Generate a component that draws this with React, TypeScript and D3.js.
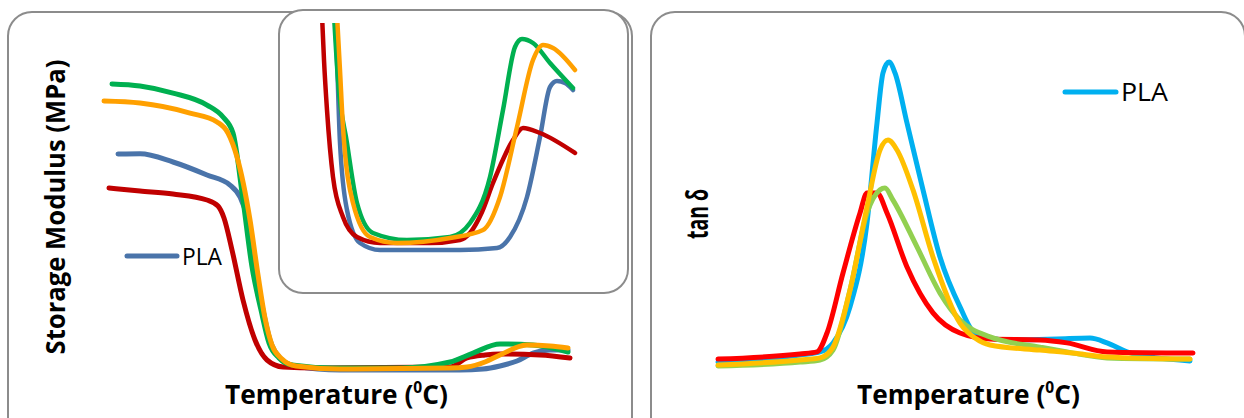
import React, { useLayoutEffect, useRef, useState } from "react";
import * as d3 from "d3";

type Pt = [number, number];

// Storage modulus (MPa) vs temperature (°C) — main plot
const smPLA: Pt[] = [[23.6,2700],[28,2702],[34.6,2600],[41.4,2438],[46,2312],[48,2162],[49.4,1912],[50.8,1375],[52.4,812],[54,375],[56,150],[59,50],[68,0],[92,0],[96.6,12],[100,50],[103.4,112],[106.6,212],[110,250],[113.6,250]];
const smRed: Pt[] = [[21.8,2275],[28,2238],[34.6,2200],[41.4,2125],[43.6,2050],[44.8,1900],[46.4,1500],[48.6,875],[51,375],[53.4,125],[56.6,38],[63.4,25],[90,38],[93.4,150],[97,188],[100,200],[108,188],[114,150]];
const smGreen: Pt[] = [[22.4,3575],[28,3550],[34.6,3462],[41.4,3312],[44.6,3162],[46.6,2962],[48.6,2125],[50.4,1288],[52.2,750],[53.8,338],[55.8,150],[58.4,62],[66.6,25],[80,25],[90,100],[94.6,212],[100,325],[106.6,312],[113.6,225]];
const smOrange: Pt[] = [[20.8,3362],[28,3337],[38,3212],[43.4,3100],[45.6,2962],[47.4,2662],[50,1875],[51.6,1188],[53,650],[54.4,312],[56.4,138],[59.2,50],[68,12],[90,25],[93.4,38],[97,100],[100,188],[105.4,312],[110,300],[113.6,275]];

// Inset (magnified low-modulus region)
const inPLA: Pt[] = [[43.75,120],[44.25,97.5],[45,56],[46.75,22.5],[50,6],[55,2.5],[75,2.5],[84.25,3.5],[87.5,9],[91.75,29],[95,59],[97.5,84],[99.25,87],[101.25,86],[103.25,82.5]];
const inRed: Pt[] = [[40.5,120],[41,97.5],[41.75,72.5],[43.25,39],[45.75,19],[49.25,9],[55,6],[67.5,6],[75,7.5],[77.5,11],[80.5,21.5],[83.25,36],[88.25,57.5],[90.75,63.5],[95,61],[103.75,51]];
const inGreen: Pt[] = [[43.5,120],[44.5,87.5],[46.75,56],[49.25,26],[53.25,11],[61.75,7.5],[72.5,9],[77.5,16],[82.5,39],[85.75,72.5],[88.75,104],[90.5,108],[93.25,106],[97.5,96],[103.25,83.5]];
const inOrange: Pt[] = [[44.25,120],[45,92.5],[45.75,64],[48.25,26],[52.5,9],[59.25,6],[72.5,8.5],[80.75,12.5],[85,29],[89.25,64],[93.25,97.5],[95.75,105],[98.25,103.5],[103.75,92.5]];

// tan δ vs temperature (°C)
const tdPLA: Pt[] = [[20,0.013],[36.4,0.037],[40.4,0.047],[43,0.077],[46.4,0.197],[49.8,0.477],[51.8,0.81],[53,0.977],[54.2,1.013],[55.4,0.977],[57.8,0.81],[61,0.587],[64.4,0.363],[68.4,0.197],[71.4,0.11],[77.8,0.087],[87.8,0.09],[94.4,0.093],[97.8,0.077],[101.8,0.047],[107.8,0.027],[114.4,0.017]];
const tdRed: Pt[] = [[20,0.023],[36.4,0.04],[39.8,0.047],[41.8,0.11],[45,0.31],[48.4,0.51],[49.8,0.577],[51.8,0.577],[53.8,0.51],[57.8,0.33],[63,0.177],[68.4,0.11],[74.4,0.09],[84.4,0.087],[89.8,0.077],[97.8,0.047],[115,0.043]];
const tdGreen: Pt[] = [[20,0],[36.4,0.013],[40.4,0.02],[43,0.053],[46.4,0.253],[49.8,0.51],[52.4,0.587],[53.4,0.593],[55,0.553],[59.8,0.397],[64.4,0.243],[68.4,0.153],[74.4,0.097],[84.4,0.063],[91,0.043],[97.8,0.027],[114.4,0.023]];
const tdYellow: Pt[] = [[20,0.003],[36.4,0.02],[40.4,0.027],[43,0.063],[46.4,0.253],[49.8,0.53],[52.4,0.72],[54,0.753],[55.8,0.72],[59,0.587],[63,0.363],[68.4,0.143],[71.4,0.093],[74.4,0.07],[84.4,0.053],[91,0.043],[97.8,0.03],[114.4,0.023]];

const legendLabel = "PLA";
const xTitle = "Temperature (";
const xTitleSup = "0";
const xTitleEnd = "C)";
const yTitleLeft = "Storage Modulus (MPa)";
const yTitleRight = "tan δ";

const FONT = "'Open Sans', 'Noto Sans', sans-serif";

function XTitle({ x, width }: { x: number; width: number }) {
  const ref = useRef<SVGTextElement>(null);
  const [k, setK] = useState(0.85);
  useLayoutEffect(() => {
    if (ref.current) {
      const w = ref.current.getBBox().width;
      if (w > 0) setK(width / w);
    }
  }, [width]);
  return (
    <g transform={`translate(${x},404) scale(${k},1)`}>
      <text ref={ref} x={0} y={0} fontFamily={FONT} fontWeight="bold" fontSize={27} fill="#000">
        {xTitle}
        <tspan fontSize={16} dy={-11}>{xTitleSup}</tspan>
        <tspan dy={11}>{xTitleEnd}</tspan>
      </text>
    </g>
  );
}

export default function App() {
  const mainX = d3.scaleLinear().domain([20, 115]).range([100, 575]);
  const mainY = d3.scaleLinear().domain([0, 3600]).range([370, 82]);
  const insX = d3.scaleLinear().domain([40, 104]).range([320, 576]);
  const insY = d3.scaleLinear().domain([0, 120]).range([255, 15]);
  const tX = d3.scaleLinear().domain([20, 115]).range([718, 1193]);
  const tY = d3.scaleLinear().domain([0, 1]).range([366, 66]);

  const mk = (x: d3.ScaleLinear<number, number>, y: d3.ScaleLinear<number, number>) =>
    d3.line<Pt>().x((d) => x(d[0])).y((d) => y(d[1])).curve(d3.curveMonotoneX);
  const mainLine = mk(mainX, mainY);
  const insLine = mk(insX, insY);
  const tLine = mk(tX, tY);

  const mainSeries: [Pt[], string][] = [
    [smPLA, "#4a74aa"], [smRed, "#c00000"], [smGreen, "#00b050"], [smOrange, "#ffa000"],
  ];
  const insSeries: [Pt[], string][] = [
    [inPLA, "#4a74aa"], [inRed, "#c00000"], [inGreen, "#00b050"], [inOrange, "#ffa000"],
  ];
  const tSeries: [Pt[], string][] = [
    [tdPLA, "#00b0f0"], [tdRed, "#ff0000"], [tdGreen, "#92d050"], [tdYellow, "#ffc000"],
  ];

  const border = "#8c8c8c";

  return (
    <svg width={1244} height={418} style={{ position: "absolute", left: 0, top: 0, display: "block" }}>
      <defs>
        <clipPath id="insClip">
          <rect x={280} y={23} width={346} height={268} />
        </clipPath>
      </defs>
      <rect x={0} y={0} width={1244} height={418} fill="#fff" />
      {/* Left panel */}
      <rect x={8} y={12} width={624} height={430} rx={24} ry={24} fill="#fff" stroke={border} strokeWidth={2} />
      {mainSeries.map(([d, c], i) => (
        <path key={"m" + i} d={mainLine(d) || ""} fill="none" stroke={c} strokeWidth={5} strokeLinecap="round" strokeLinejoin="round" />
      ))}
      {/* inset */}
      <rect x={279} y={10} width={349} height={283} rx={24} ry={24} fill="#fff" stroke={border} strokeWidth={2} />
      <g clipPath="url(#insClip)">
        {insSeries.map(([d, c], i) => (
          <path key={"i" + i} d={insLine(d) || ""} fill="none" stroke={c} strokeWidth={4.5} strokeLinecap="round" strokeLinejoin="round" />
        ))}
      </g>
      {/* left legend */}
      <line x1={127} x2={177} y1={256} y2={256} stroke="#4a74aa" strokeWidth={5} strokeLinecap="round" />
      <text x={182} y={265} fontFamily={FONT} fontSize={24} fill="#000" textLength={40} lengthAdjust="spacingAndGlyphs">{legendLabel}</text>
      {/* left titles */}
      <text transform="translate(65,207) rotate(-90)" textAnchor="middle" fontFamily={FONT} fontWeight="bold" fontSize={26} textLength={295} lengthAdjust="spacingAndGlyphs" fill="#000">{yTitleLeft}</text>
      <XTitle x={225} width={223} />

      {/* Right panel */}
      <rect x={651} y={12} width={594} height={430} rx={24} ry={24} fill="#fff" stroke={border} strokeWidth={2} />
      {tSeries.map(([d, c], i) => (
        <path key={"t" + i} d={tLine(d) || ""} fill="none" stroke={c} strokeWidth={5} strokeLinecap="round" strokeLinejoin="round" />
      ))}
      <line x1={1065} x2={1116} y1={92} y2={92} stroke="#00b0f0" strokeWidth={5} strokeLinecap="round" />
      <text x={1121} y={101} fontFamily={FONT} fontSize={26} fill="#000" textLength={47} lengthAdjust="spacingAndGlyphs">{legendLabel}</text>
      <text transform="translate(708,214) rotate(-90)" textAnchor="middle" fontFamily={FONT} fontWeight="bold" fontSize={30} textLength={50} lengthAdjust="spacingAndGlyphs" fill="#000">{yTitleRight}</text>
      <XTitle x={857} width={223} />
    </svg>
  );
}
